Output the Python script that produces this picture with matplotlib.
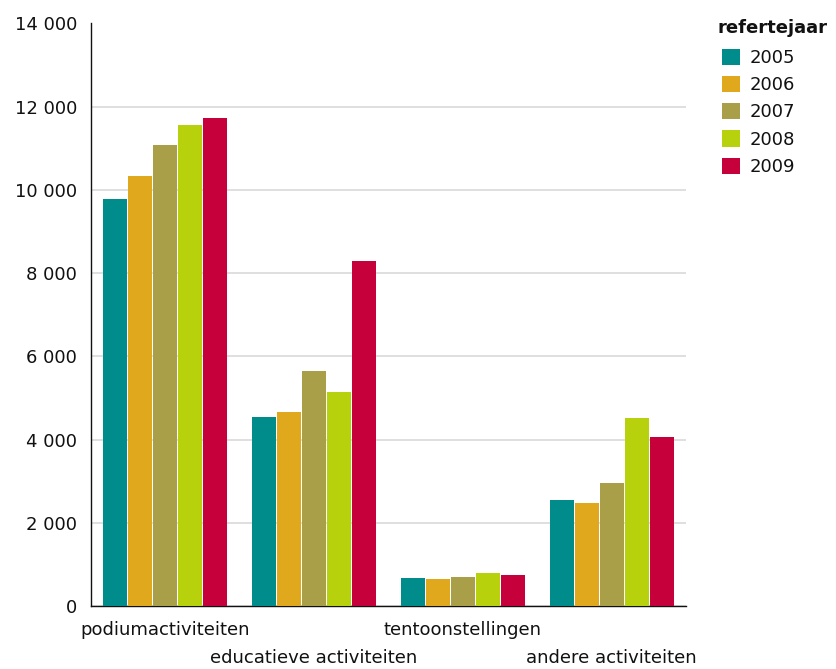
import matplotlib
matplotlib.use("Agg")
import matplotlib.pyplot as plt
from matplotlib.patches import Patch
import numpy as np

categories = ["podiumactiviteiten", "educatieve activiteiten", "tentoonstellingen", "andere activiteiten"]
years = ["2005", "2006", "2007", "2008", "2009"]
values = {
    "2005": [9790, 4550, 680, 2550],
    "2006": [10340, 4670, 650, 2480],
    "2007": [11090, 5650, 700, 2960],
    "2008": [11550, 5150, 795, 4520],
    "2009": [11740, 8280, 750, 4070],
}
colors = ["#008C8A", "#E0A81C", "#A89F48", "#B7D10D", "#C6003B"]
yticks = [0, 2000, 4000, 6000, 8000, 10000, 12000, 14000]

plt.rcParams['font.family'] = ['DejaVu Sans']
W, H = 837, 669
fig = plt.figure(figsize=(W / 100, H / 100), dpi=100)
ax = fig.add_axes([91 / W, (H - 606) / H, 595 / W, 582.5 / H])

x = np.arange(len(categories))
pitch = 0.168
bw = 0.161
for j, yr in enumerate(years):
    ax.bar(x + (j - 2) * pitch, values[yr], width=bw, color=colors[j], zorder=3, label=yr)

ax.set_xlim(-0.5, len(categories) - 0.5)
ax.set_ylim(0, 14000)
ax.set_yticks(yticks)
ax.set_yticklabels([f"{v:,}".replace(",", " ") for v in yticks], fontsize=13, color="#111111")
ax.tick_params(axis="y", length=0, pad=10)
ax.set_xticks([])
ax.grid(axis="y", color="#d9d9d9", linewidth=1.2, zorder=0)
for s in ["top", "right"]:
    ax.spines[s].set_visible(False)
ax.spines["left"].set_color("#111111")
ax.spines["bottom"].set_color("#111111")
ax.spines["left"].set_linewidth(1.0)
ax.spines["bottom"].set_linewidth(1.0)

for i, cat in enumerate(categories):
    off = -24 if i % 2 == 0 else -52
    ax.annotate(cat, xy=(i, 0), xycoords=("data", "axes fraction"),
                xytext=(0, off), textcoords="offset pixels",
                ha="center", va="center", fontsize=13, color="#111111",
                annotation_clip=False)

fig.text(718 / W, 1 - 28 / H, "refertejaar", fontsize=13, fontweight="bold",
         ha="left", va="center", color="#111111")
handles = [Patch(facecolor=c, edgecolor="none") for c in colors]
leg = fig.legend(handles, years, loc="upper left", bbox_to_anchor=(722 / W, 1 - 48.5 / H),
                 frameon=False, fontsize=13,
                 handlelength=1.0, handleheight=1.0, handletextpad=0.55,
                 labelspacing=0.5, borderaxespad=0, borderpad=0)
for t in leg.get_texts():
    t.set_color("#111111")

fig.savefig("out.png", dpi=100)
